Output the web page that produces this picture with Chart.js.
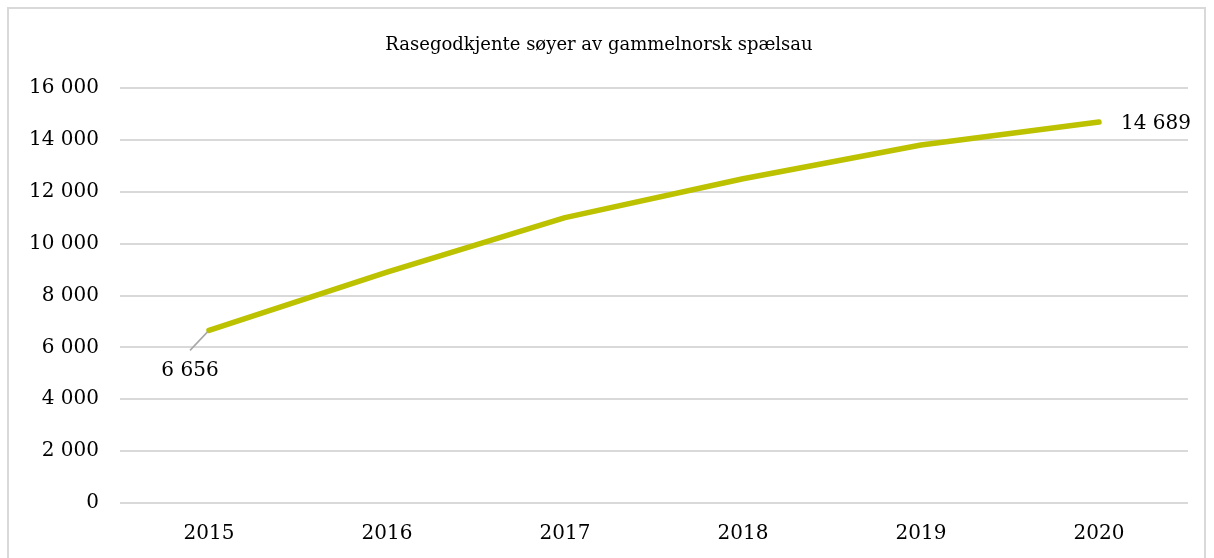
<!DOCTYPE html>
<html>
<head>
<meta charset="utf-8">
<script src="https://cdn.jsdelivr.net/npm/chart.js@4/dist/chart.umd.min.js"></script>
<style>
  html, body { margin: 0; padding: 0; background: #fff; }
  #wrap { position: relative; width: 1214px; height: 558px; overflow: hidden; }
  #frame { position: absolute; left: 7px; top: 7px; width: 1199px; height: 560px; border: 2px solid #d9d9d9; box-sizing: border-box; }
  canvas { position: absolute; left: 0; top: 0; }
</style>
</head>
<body>
<div id="wrap">
  <div id="frame"></div>
  <canvas id="c" width="1214" height="558"></canvas>
</div>
<script>
const title = "Rasegodkjente søyer av gammelnorsk spælsau";
const years = ["2015", "2016", "2017", "2018", "2019", "2020"];
const ewes = [6656, 8900, 11000, 12500, 13800, 14689];
const labelledIndexes = [0, 5];
const yTicks = [0, 2000, 4000, 6000, 8000, 10000, 12000, 14000, 16000];

const FONT = "'DejaVu Serif', 'Liberation Serif', serif";
function fmt(v) { return String(Math.round(v)).replace(/\B(?=(\d{3})+(?!\d))/g, " "); }

const labelPlugin = {
  id: 'pointLabels',
  afterDatasetsDraw(chart) {
    const ctx = chart.ctx;
    const meta = chart.getDatasetMeta(0);
    ctx.save();
    ctx.font = "20px " + FONT;
    ctx.fillStyle = "#000";
    labelledIndexes.forEach((i, k) => {
      const p = meta.data[i];
      const txt = fmt(ewes[i]);
      if (k === 0) {
        ctx.strokeStyle = "#a6a6a6";
        ctx.lineWidth = 1.5;
        ctx.beginPath();
        ctx.moveTo(p.x - 1, p.y + 1);
        ctx.lineTo(p.x - 19, p.y + 20);
        ctx.stroke();
        ctx.textAlign = "center";
        ctx.textBaseline = "middle";
        ctx.fillText(txt, p.x - 19, p.y + 40);
      } else {
        ctx.textAlign = "left";
        ctx.textBaseline = "middle";
        ctx.fillText(txt, p.x + 22, p.y + 2);
      }
    });
    ctx.restore();
  }
};

new Chart(document.getElementById('c'), {
  type: 'line',
  data: {
    labels: years,
    datasets: [{
      data: ewes,
      borderColor: '#bcc200',
      borderWidth: 5.5,
      borderCapStyle: 'round',
      borderJoinStyle: 'round',
      pointRadius: 0,
      tension: 0,
      clip: false
    }]
  },
  options: {
    responsive: false,
    animation: false,
    layout: { padding: { left: 10, right: 26, top: 0, bottom: 0 } },
    plugins: {
      legend: { display: false },
      tooltip: { enabled: false },
      title: {
        display: true,
        text: title,
        color: '#000',
        font: { family: FONT, size: 18, weight: 'normal', lineHeight: 1.2 },
        padding: { top: 35, bottom: 31.4 }
      }
    },
    scales: {
      x: {
        offset: true,
        grid: { display: false, drawTicks: false },
        border: { display: false },
        ticks: { color: '#000', font: { family: FONT, size: 20 }, padding: 19, maxRotation: 0 },
        afterFit(s) { s.height = 55; }
      },
      y: {
        min: 0, max: 16000,
        afterBuildTicks(s) { s.ticks = yTicks.map(v => ({ value: v })); },
        grid: { color: '#d9d9d9', lineWidth: 2, drawTicks: false },
        border: { display: false },
        ticks: { color: '#000', font: { family: FONT, size: 20 }, padding: 21, callback: v => fmt(v) },
        afterFit(s) { s.width = 110; }
      }
    }
  },
  plugins: [labelPlugin]
});
</script>
</body>
</html>
